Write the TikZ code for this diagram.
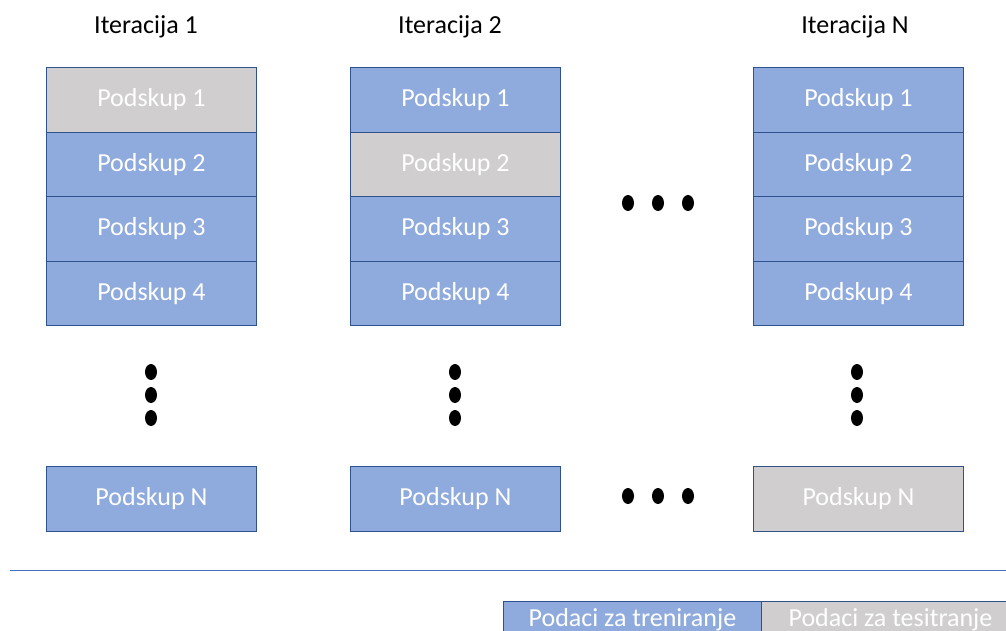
\documentclass[tikz,border=0pt]{standalone}
\usepackage{fontspec}
\setmainfont{Carlito}
\definecolor{trainblue}{HTML}{8FAADC}
\definecolor{testgray}{HTML}{D0CECE}
\definecolor{edgeblue}{HTML}{2F528F}
\definecolor{lineblue}{HTML}{4472C4}
\begin{document}
\begin{tikzpicture}[x=1pt,y=-1pt,
  cell/.style={draw=edgeblue, line width=0.9pt, minimum width=210pt, minimum height=64.5pt, inner sep=0pt, text=white, font=\fontsize{26}{30}\selectfont, anchor=north west},
  train/.style={cell, fill=trainblue},
  test/.style={cell, fill=testgray},
  title/.style={font=\fontsize{26}{30}\selectfont, text=black},
  dot/.style={fill=black}
]
\useasboundingbox (0,0) rectangle (1006,630);
\clip (0,0) rectangle (1006,630);
% titles
\node[title] (t1) at (146,27) {Iteracija 1};
\node[title] (t2) at (450,27) {Iteracija 2};
\node[title] (t3) at (855,27) {Iteracija N};
% column 1
\node[test]  (a1) at (46,67) {Podskup 1};
\node[train] (a2) at (46,131.5) {Podskup 2};
\node[train] (a3) at (46,196) {Podskup 3};
\node[train] (a4) at (46,260.5) {Podskup 4};
\node[train] (aN) at (46,466) {Podskup N};
% column 2
\node[train] (b1) at (350,67) {Podskup 1};
\node[test]  (b2) at (350,131.5) {Podskup 2};
\node[train] (b3) at (350,196) {Podskup 3};
\node[train] (b4) at (350,260.5) {Podskup 4};
\node[train] (bN) at (350,466) {Podskup N};
% column 3
\node[train] (c1) at (753,67) {Podskup 1};
\node[train] (c2) at (753,131.5) {Podskup 2};
\node[train] (c3) at (753,196) {Podskup 3};
\node[train] (c4) at (753,260.5) {Podskup 4};
\node[test]  (cN) at (753,466) {Podskup N};
% vertical dots
\foreach \x in {151,455,857}{
  \foreach \y in {372,395,418}{
    \fill[dot] (\x,\y) ellipse (6pt and 8pt);
  }
}
% horizontal dots
\foreach \y in {203,496}{
  \foreach \x in {628,658,688}{
    \fill[dot] (\x,\y) ellipse (6pt and 8pt);
  }
}
% separator
\draw[lineblue, line width=0.8pt] (10,570.5) -- (1006,570.5);
% legend
\node[train, minimum width=258pt, minimum height=36pt] (lt) at (503,601) {Podaci za treniranje};
\node[test, minimum width=258pt, minimum height=36pt] (lg) at (761,601) {Podaci za tesitranje};
\end{tikzpicture}
\end{document}
